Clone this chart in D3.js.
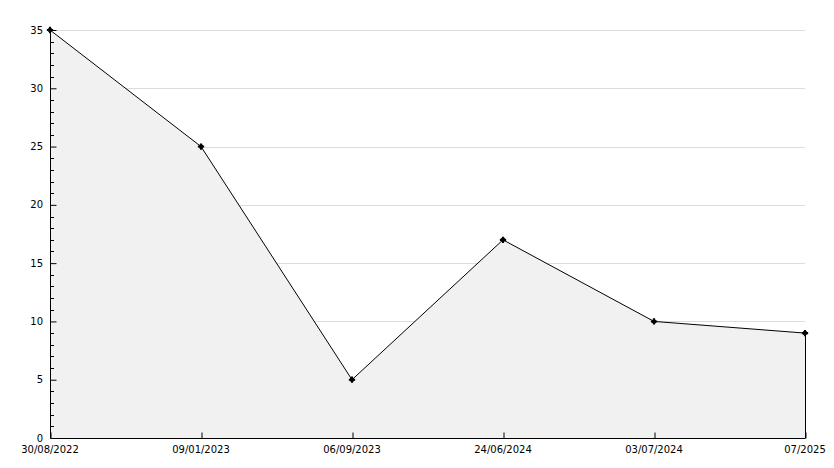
<!DOCTYPE html>
<html>
<head>
<meta charset="utf-8">
<script src="https://cdn.jsdelivr.net/npm/d3@7"></script>
<style>
html,body{margin:0;padding:0;background:#fff;}
svg{display:block;}
text{font-family:"DejaVu Sans",sans-serif;font-size:10px;fill:#000;}
</style>
</head>
<body>
<svg id="chart" width="834" height="468"></svg>
<script>
const categories = ["30/08/2022","09/01/2023","06/09/2023","24/06/2024","03/07/2024","07/2025"];
const values = [35, 25, 5, 17, 10, 9];
const yMajorTicks = [0, 5, 10, 15, 20, 25, 30, 35];
const yMinorTicks = d3.range(0, 36, 1);

(function(){
const svg = d3.select("#chart");
const pLeft = 50, pRight = 805, pTop = 30, pBottom = 438;

const x = d3.scalePoint().domain(categories).range([pLeft, pRight]);
const y = d3.scaleLinear().domain([0, 35]).range([pBottom, pTop]);

// gridlines
svg.append("g").selectAll("line").data(yMajorTicks.filter(d => d > 0)).join("line")
  .attr("x1", pLeft).attr("x2", pRight)
  .attr("y1", d => Math.round(y(d)) + 0.5).attr("y2", d => Math.round(y(d)) + 0.5)
  .attr("stroke", "#dcdcdc").attr("stroke-width", 1);

const pts = categories.map((c, i) => [x(c), y(values[i])]);

// area
const area = d3.area().x(d => d[0]).y0(pBottom).y1(d => d[1]);
svg.append("path").datum(pts).attr("d", area).attr("fill", "#f1f1f1");

// right edge line
const lastX = x(categories[categories.length-1]);
svg.append("line")
  .attr("x1", lastX + 0.5).attr("x2", lastX + 0.5)
  .attr("y1", y(values[values.length-1])).attr("y2", pBottom)
  .attr("stroke", "#000").attr("stroke-width", 1);

// line
svg.append("path").datum(pts).attr("d", d3.line())
  .attr("fill", "none").attr("stroke", "#000").attr("stroke-width", 1);

// y axis minor ticks
svg.append("g").selectAll("line").data(yMinorTicks.filter(d => yMajorTicks.indexOf(d) < 0)).join("line")
  .attr("x1", pLeft).attr("x2", pLeft + 4)
  .attr("y1", d => Math.round(y(d)) + 0.5).attr("y2", d => Math.round(y(d)) + 0.5)
  .attr("stroke", "#000");

// y axis
const yAxis = d3.axisRight(y).tickValues(yMajorTicks).tickSize(6).tickFormat("");
const gy = svg.append("g").attr("transform", `translate(${pLeft + 0.5},0)`).call(yAxis);
gy.select(".domain").attr("d", `M0,${pTop}V${pBottom}`);
svg.append("g").selectAll("text").data(yMajorTicks).join("text")
  .attr("x", pLeft - 7).attr("y", d => y(d)).attr("dy", "0.35em")
  .attr("text-anchor", "end").text(d => d);

// x axis
const xAxis = d3.axisTop(x).tickSize(6).tickFormat("");
const gx = svg.append("g").attr("transform", `translate(0.5,${pBottom + 0.5})`).call(xAxis);
gx.select(".domain").attr("d", `M${pLeft},0H${pRight}`);
svg.append("g").selectAll("text").data(categories).join("text")
  .attr("x", d => x(d)).attr("y", pBottom + 15)
  .attr("text-anchor", "middle").text(d => d);

// markers
const mk = svg.append("g");
pts.forEach(p => {
  mk.append("circle").attr("cx", p[0]).attr("cy", p[1]).attr("r", 2.3).attr("fill", "#000");
  mk.append("path").attr("d", d3.symbol().type(d3.symbolCross).size(22)()).attr("transform", `translate(${p[0]},${p[1]})`).attr("fill", "#000");
});
})();
</script>
</body>
</html>
